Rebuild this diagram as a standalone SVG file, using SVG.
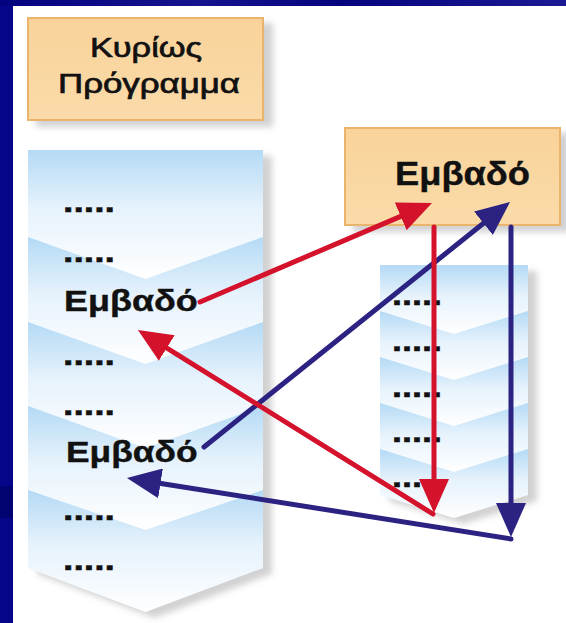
<svg xmlns="http://www.w3.org/2000/svg" width="566" height="623" viewBox="0 0 566 623">
  <defs>
    <style>
      .lbl { font-family: "Liberation Sans", Arial, sans-serif; fill: #111; stroke: #111; }
      .reg { font-size: 27px; stroke-width: 0.7px; }
      .bold { font-size: 29px; font-weight: bold; stroke-width: 0.4px; }
      .dots { font-family: "Liberation Sans", Arial, sans-serif; font-size: 29px; font-weight: bold; fill: #111; stroke: #111; stroke-width: 0.5px; }
      .box { fill: url(#peach); stroke: #EBB46C; stroke-width: 2; }
      .seg { fill: url(#ice); }
      .red { fill: none; stroke: #D4122C; stroke-width: 5; stroke-linecap: round; }
      .blue { fill: none; stroke: #2B2282; stroke-width: 5; stroke-linecap: round; }
    </style>
    <linearGradient id="peach" x1="0" y1="0" x2="0" y2="1">
      <stop offset="0" stop-color="#F9D39A"/>
      <stop offset="1" stop-color="#FADBA9"/>
    </linearGradient>
    <linearGradient id="ice" x1="0" y1="0" x2="0" y2="1">
      <stop offset="0" stop-color="#B4DAF5"/>
      <stop offset="0.45" stop-color="#E6F2FC"/>
      <stop offset="1" stop-color="#FFFFFF"/>
    </linearGradient>
    <linearGradient id="band" x1="0" y1="0" x2="1" y2="0">
      <stop offset="0" stop-color="#03037F"/>
      <stop offset="0.35" stop-color="#14148F"/>
      <stop offset="0.6" stop-color="#04047F"/>
      <stop offset="1" stop-color="#1A1A92"/>
    </linearGradient>
    <filter id="shadow" x="-10%" y="-10%" width="130%" height="130%">
      <feGaussianBlur in="SourceAlpha" stdDeviation="3"/>
      <feOffset dx="9" dy="6" result="off"/>
      <feFlood flood-color="#9A9A9A" flood-opacity="0.45"/>
      <feComposite in2="off" operator="in"/>
      <feMerge>
        <feMergeNode/>
        <feMergeNode in="SourceGraphic"/>
      </feMerge>
    </filter>
    <marker id="headRed" viewBox="0 0 34 30" refX="14" refY="15" markerWidth="34" markerHeight="30" markerUnits="userSpaceOnUse" orient="auto">
      <path d="M0,0 L34,15 L0,30 Z" fill="#D4122C"/>
    </marker>
    <marker id="headBlue" viewBox="0 0 34 30" refX="14" refY="15" markerWidth="34" markerHeight="30" markerUnits="userSpaceOnUse" orient="auto">
      <path d="M0,0 L34,15 L0,30 Z" fill="#2B2282"/>
    </marker>
  </defs>

  <!-- slide frame -->
  <rect x="0" y="0" width="566" height="623" fill="#05058A"/>
  <rect x="0" y="0" width="566" height="6" fill="url(#band)"/>
  <rect x="0" y="486" width="13" height="32" fill="#020270"/>
  <rect x="13" y="6" width="553" height="617" fill="#FFFFFF"/>

  <!-- caller title box -->
  <g id="main-title">
    <rect class="box" x="28" y="18" width="235" height="102" filter="url(#shadow)"/>
    <text class="lbl reg" transform="translate(90,57) scale(1.27,1)">Κυρίως</text>
    <text class="lbl reg" transform="translate(58,93) scale(1.29,1)">Πρόγραμμα</text>
  </g>

  <!-- caller statement stack -->
  <g id="main-stack">
    <g filter="url(#shadow)">
      <polygon class="seg" points="28,490 263,490 263,568 145.5,612 28,568"/>
      <polygon class="seg" points="28,406 263,406 263,490 145.5,530 28,490"/>
      <polygon class="seg" points="28,322 263,322 263,406 145.5,448 28,406"/>
      <polygon class="seg" points="28,237 263,237 263,322 145.5,364 28,322"/>
      <polygon class="seg" points="28,150 263,150 263,237 145.5,279 28,237"/>
    </g>
    <text class="dots" transform="translate(63,212) scale(1.29,1)">.....</text>
    <text class="dots" transform="translate(63,262) scale(1.29,1)">.....</text>
    <text class="lbl bold" transform="translate(64,311) scale(1.24,1)">Εμβαδό</text>
    <text class="dots" transform="translate(63,365) scale(1.29,1)">.....</text>
    <text class="dots" transform="translate(63,415) scale(1.29,1)">.....</text>
    <text class="lbl bold" transform="translate(66,462) scale(1.22,1)">Εμβαδό</text>
    <text class="dots" transform="translate(63,520) scale(1.29,1)">.....</text>
    <text class="dots" transform="translate(63,570) scale(1.29,1)">.....</text>
  </g>

  <!-- procedure title box -->
  <g id="proc-title">
    <rect class="box" x="345" y="128" width="215" height="97" filter="url(#shadow)"/>
    <text class="lbl" font-size="33" font-weight="bold" stroke-width="0.4" transform="translate(395,185) scale(1.1,1)">Εμβαδό</text>
  </g>

  <!-- procedure statement stack -->
  <g id="proc-stack">
    <g filter="url(#shadow)">
      <polygon class="seg" points="380,449 528,449 528,495 454,518 380,495"/>
      <polygon class="seg" points="380,403 528,403 528,449 454,472 380,449"/>
      <polygon class="seg" points="380,357 528,357 528,403 454,426 380,403"/>
      <polygon class="seg" points="380,311 528,311 528,357 454,380 380,357"/>
      <polygon class="seg" points="380,265 528,265 528,311 454,334 380,311"/>
    </g>
    <text class="dots" transform="translate(392,305) scale(1.24,1)">.....</text>
    <text class="dots" transform="translate(392,351) scale(1.24,1)">.....</text>
    <text class="dots" transform="translate(392,397) scale(1.24,1)">.....</text>
    <text class="dots" transform="translate(392,442) scale(1.24,1)">.....</text>
    <text class="dots" transform="translate(392,487) scale(1.24,1)">.....</text>
  </g>

  <!-- call and return flow -->
  <g id="connectors">
    <line class="red" x1="200" y1="302" x2="413.6" y2="210.9" marker-end="url(#headRed)"/>
    <line class="blue" x1="204" y1="447" x2="494.4" y2="214.5" marker-end="url(#headBlue)"/>
    <line class="red" x1="434" y1="227" x2="434" y2="493" marker-end="url(#headRed)"/>
    <line class="blue" x1="511" y1="227" x2="511" y2="517" marker-end="url(#headBlue)"/>
    <line class="red" x1="433" y1="514" x2="154.9" y2="340.6" marker-end="url(#headRed)"/>
    <line class="blue" x1="511" y1="539" x2="146.7" y2="481.2" marker-end="url(#headBlue)"/>
  </g>
</svg>
